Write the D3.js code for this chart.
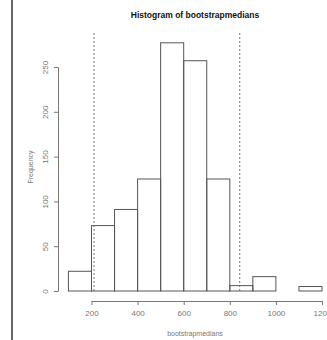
<!DOCTYPE html>
<html>
<head>
<meta charset="utf-8">
<script src="https://cdn.jsdelivr.net/npm/d3@7"></script>
<style>
  body { margin: 0; background: #fff; }
  svg { display: block; font-family: "Liberation Sans", Arial, sans-serif; }
</style>
</head>
<body>
<svg id="chart" width="327" height="340"></svg>
<script>
// histogram bins (left edges, width 100) and counts
var binStarts = [100, 200, 300, 400, 500, 600, 700, 800, 900, 1000, 1100];
var binCounts = [22, 73, 91, 125, 277, 257, 125, 6, 16, 0, 5];
var binWidth = 100;
// dashed reference lines (interval bounds)
var refLines = [211, 843];
var xTicks = [200, 400, 600, 800, 1000, 1200];
var yTicks = [0, 50, 100, 150, 200, 250];

var svg = d3.select('#chart');

// pixel layout
var x = d3.scaleLinear().domain([200, 1200]).range([91.5, 322]);
var y = d3.scaleLinear().domain([0, 250]).range([291, 67]);

// left frame edge
svg.append('line')
  .attr('x1', 12).attr('x2', 12)
  .attr('y1', 0).attr('y2', 340)
  .attr('stroke', '#333')
  .attr('stroke-width', 1.5);

// bars
svg.append('g')
  .selectAll('rect')
  .data(binStarts)
  .enter()
  .append('rect')
  .attr('x', (d) => x(d))
  .attr('y', (d, i) => y(binCounts[i]))
  .attr('width', (d) => x(d + binWidth) - x(d))
  .attr('height', (d, i) => y(0) - y(binCounts[i]))
  .attr('fill', 'none')
  .attr('stroke', '#555')
  .attr('stroke-width', 1);

// dashed vertical lines
svg.append('g')
  .selectAll('line')
  .data(refLines)
  .enter()
  .append('line')
  .attr('x1', (d) => x(d)).attr('x2', (d) => x(d))
  .attr('y1', 33).attr('y2', y(0))
  .attr('stroke', '#777')
  .attr('stroke-width', 1)
  .attr('stroke-dasharray', '2,2');

// x axis
var xAxis = svg.append('g')
  .attr('transform', 'translate(0,' + 301 + ')')
  .call(d3.axisBottom(x).tickValues(xTicks).tickFormat(d3.format('d'))
    .tickSize(4).tickPadding(5).tickSizeOuter(0));
xAxis.select('.domain').attr('stroke', '#777');
xAxis.selectAll('.tick line').attr('stroke', '#777');
xAxis.selectAll('.tick text').attr('fill', '#777').style('font-size', '8px');

// y axis
var yAxis = svg.append('g')
  .attr('transform', 'translate(' + 58 + ',0)')
  .call(d3.axisLeft(y).tickValues(yTicks).tickFormat(d3.format('d'))
    .tickSize(4).tickSizeOuter(0));
yAxis.select('.domain').attr('stroke', '#777');
yAxis.selectAll('.tick line').attr('stroke', '#777');
yAxis.selectAll('.tick text')
  .attr('fill', '#777')
  .style('font-size', '8px')
  .attr('x', null).attr('dy', null)
  .attr('text-anchor', 'middle')
  .attr('transform', 'translate(-10,0) rotate(-90)');

// title
svg.append('text')
  .attr('x', 195)
  .attr('y', 18)
  .attr('text-anchor', 'middle')
  .style('font-size', '8.5px')
  .style('font-weight', 'bold')
  .attr('fill', '#111')
  .text('Histogram of bootstrapmedians');

// axis titles
svg.append('text')
  .attr('x', 195)
  .attr('y', 336)
  .attr('text-anchor', 'middle')
  .style('font-size', '7px')
  .attr('fill', '#777')
  .text('bootstrapmedians');

svg.append('text')
  .attr('transform', 'translate(33,167) rotate(-90)')
  .attr('text-anchor', 'middle')
  .style('font-size', '7px')
  .attr('fill', '#777')
  .text('Frequency');
</script>
</body>
</html>
